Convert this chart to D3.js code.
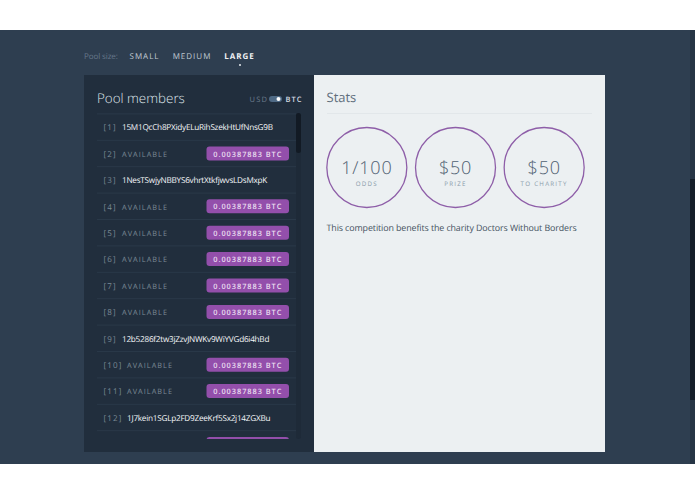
<!DOCTYPE html>
<html>
<head>
<meta charset="utf-8">
<script src="https://cdnjs.cloudflare.com/ajax/libs/d3/7.8.5/d3.min.js"></script>
<style>
  html, body { margin: 0; padding: 0; background: #fff; overflow: hidden; }
  svg { display: block; }
  text { font-family: "Open Sans", sans-serif; text-rendering: geometricPrecision; }
</style>
</head>
<body>
<div id="chart"></div>
<script>
var poolSizes = ["SMALL", "MEDIUM", "LARGE"];
var slots = ["[1]", "[2]", "[3]", "[4]", "[5]", "[6]", "[7]", "[8]", "[9]", "[10]", "[11]", "[12]", "[13]"];
var members = [
  "15M1QcCh8PXidyELuRihSzekHtUfNnsG9B", "AVAILABLE",
  "1NesTSwjyNBBYS6vhrtXtkfjwvsLDsMxpK", "AVAILABLE",
  "AVAILABLE", "AVAILABLE", "AVAILABLE", "AVAILABLE",
  "12b5286f2tw3jZzvJNWKv9WiYVGd6i4hBd", "AVAILABLE", "AVAILABLE",
  "1J7kein1SGLp2FD9ZeeKrf5Sx2j14ZGXBu", "AVAILABLE"
];
var price = "0.00387883 BTC";
var statValues = ["1/100", "$50", "$50"];
var statLabels = ["ODDS", "PRIZE", "TO CHARITY"];

var width = 695, height = 494;
var svg = d3.select("#chart").append("svg")
    .attr("width", width)
    .attr("height", height);

// page bands
svg.append("rect").attr("x", 0).attr("y", 30).attr("width", width).attr("height", 434).attr("fill", "#2e3e50");
svg.append("rect").attr("x", 690).attr("y", 30).attr("width", 5).attr("height", 434).attr("fill", "#263545");
svg.append("rect").attr("x", 690).attr("y", 179).attr("width", 5).attr("height", 221).attr("fill", "#141e29");

// pool size nav
svg.append("text").attr("x", 84).attr("y", 59).attr("font-size", 8).attr("letter-spacing", -0.1).attr("fill", "#66778a").text("Pool size:");
var navX = d3.scalePoint().domain(poolSizes).range([144.5, 239.5]);
svg.selectAll(".nav").data(poolSizes).join("text")
    .attr("class", "nav")
    .attr("x", function (d) { return navX(d); })
    .attr("y", 59)
    .attr("text-anchor", "middle")
    .attr("font-size", 8)
    .attr("letter-spacing", 1)
    .attr("font-weight", function (d) { return d == "LARGE" ? 700 : 400; })
    .attr("fill", function (d) { return d == "LARGE" ? "#eef1f3" : "#c0cad3"; })
    .text(function (d) { return d; });
svg.append("circle").attr("cx", 240).attr("cy", 65).attr("r", 1).attr("fill", "#e6eaee");

// panels
svg.append("rect").attr("x", 84).attr("y", 75).attr("width", 230).attr("height", 377).attr("fill", "#212e3d");
svg.append("rect").attr("x", 314).attr("y", 75).attr("width", 291).attr("height", 377).attr("fill", "#ecf0f2");

// left header
svg.append("text").attr("x", 97).attr("y", 102.5).attr("font-size", 13.4).attr("font-weight", 300).attr("fill", "#dfe4e9").text("Pool members");
svg.append("text").attr("x", 249.5).attr("y", 102).attr("font-size", 7.5).attr("letter-spacing", 1.2).attr("fill", "#6d7d8e").text("USD");
svg.append("rect").attr("x", 269).attr("y", 96).attr("width", 13).attr("height", 6).attr("rx", 3).attr("fill", "#4f6a85");
svg.append("circle").attr("cx", 278.5).attr("cy", 99).attr("r", 2).attr("fill", "#fff");
svg.append("text").attr("x", 285.5).attr("y", 102).attr("font-size", 7.5).attr("font-weight", 600).attr("letter-spacing", 1).attr("fill", "#d5dce2").text("BTC");

// member rows, clipped to the scroll area
svg.append("clipPath").attr("id", "list").append("rect").attr("x", 84).attr("y", 113).attr("width", 230).attr("height", 326);
var y = d3.scalePoint().domain(slots).range([127.3, 444.1]);
var list = svg.append("g").attr("clip-path", "url(#list)");

var rows = list.selectAll(".row").data(slots).join("g")
    .attr("class", "row")
    .attr("transform", function (d) { return "translate(0," + y(d) + ")"; });

rows.append("line")
    .attr("x1", 97).attr("x2", 296)
    .attr("y1", -13.4).attr("y2", -13.4)
    .attr("stroke", "#2a3949");

rows.append("text")
    .attr("x", 103.5)
    .attr("y", 3)
    .attr("font-size", 8)
    .attr("letter-spacing", 1.2)
    .attr("fill", "#7c8b96")
    .text(function (d) { return d; });

rows.append("text")
    .attr("x", function (d, i) { return i < 9 ? 122 : 127; })
    .attr("y", 3)
    .attr("font-size", function (d, i) { return members[i] == "AVAILABLE" ? 7.3 : 8.2; })
    .attr("letter-spacing", function (d, i) { return members[i] == "AVAILABLE" ? 1.05 : -0.25; })
    .attr("fill", function (d, i) { return members[i] == "AVAILABLE" ? "#7c8b96" : "#f4f6f8"; })
    .text(function (d, i) { return members[i]; });

var open = rows.filter(function (d, i) { return members[i] == "AVAILABLE"; });
open.append("rect")
    .attr("x", 206.5).attr("y", -7.2)
    .attr("width", 82.5).attr("height", 14)
    .attr("rx", 3)
    .attr("fill", "#934fab");
open.append("text")
    .attr("x", 247.8).attr("y", 2.8)
    .attr("text-anchor", "middle")
    .attr("font-size", 7.4)
    .attr("font-weight", 600)
    .attr("letter-spacing", 0.95)
    .attr("fill", "#eadff0")
    .text(price);

// list scrollbar
svg.append("rect").attr("x", 296).attr("y", 113).attr("width", 5).attr("height", 326).attr("rx", 2.5).attr("fill", "#1e2a38");
svg.append("rect").attr("x", 296).attr("y", 113).attr("width", 5).attr("height", 40).attr("rx", 2.5).attr("fill", "#121a24");

// stats panel
svg.append("text").attr("x", 326.5).attr("y", 102).attr("font-size", 13).attr("fill", "#5f6e7c").text("Stats");
svg.append("line").attr("x1", 327).attr("x2", 592).attr("y1", 113.5).attr("y2", 113.5).attr("stroke", "#e2e7ea");

var statX = d3.scaleBand().domain(statLabels).range([322.5, 588.5]);
var stats = svg.selectAll(".stat").data(statLabels).join("g")
    .attr("class", "stat")
    .attr("transform", function (d) { return "translate(" + (statX(d) + statX.bandwidth() / 2) + ",167.5)"; });

stats.append("circle")
    .attr("r", 40)
    .attr("fill", "none")
    .attr("stroke", "#8e5ea8")
    .attr("stroke-width", 1.3);
stats.append("text")
    .attr("y", 6.5)
    .attr("text-anchor", "middle")
    .attr("font-size", 18)
    .attr("font-weight", 300)
    .attr("letter-spacing", 0.8)
    .attr("fill", "#4f6071")
    .text(function (d, i) { return statValues[i]; });
stats.append("text")
    .attr("y", 18.5)
    .attr("text-anchor", "middle")
    .attr("font-size", 6.2)
    .attr("letter-spacing", 1.25)
    .attr("fill", "#8b9cab")
    .text(function (d) { return d; });

svg.append("text").attr("x", 326.5).attr("y", 231).attr("font-size", 8.9).attr("letter-spacing", -0.1).attr("fill", "#45525f").text("This competition benefits the charity Doctors Without Borders");
</script>
</body>
</html>
